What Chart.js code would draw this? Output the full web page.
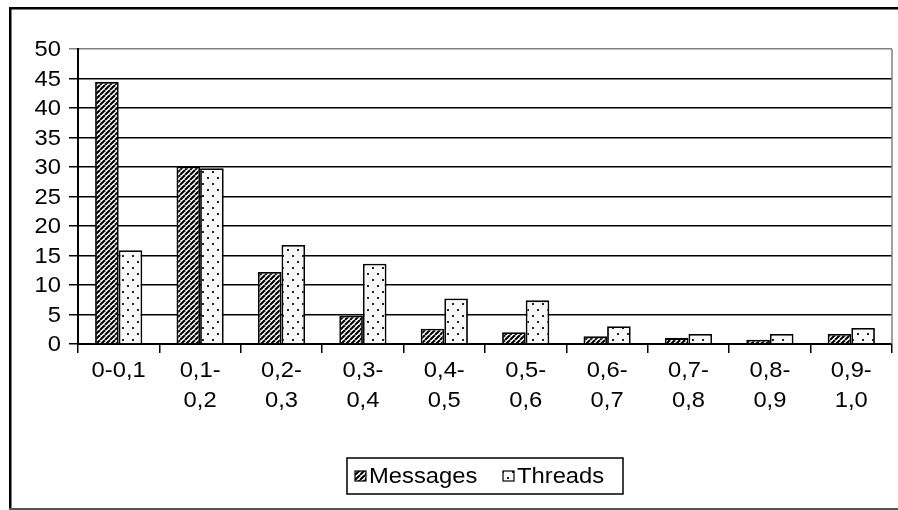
<!DOCTYPE html>
<html>
<head>
<meta charset="utf-8">
<script src="https://cdn.jsdelivr.net/npm/chart.js@4/dist/chart.umd.min.js"></script>
<style>
  html, body { margin: 0; padding: 0; background: #fff; }
  #wrap { width: 898px; height: 510px; }
</style>
</head>
<body>
<div id="wrap"><canvas id="c" width="898" height="510"></canvas></div>
<script>
// Share of messages and threads per similarity interval (%)
const categories = [["0-0,1"], ["0,1-", "0,2"], ["0,2-", "0,3"], ["0,3-", "0,4"], ["0,4-", "0,5"],
                    ["0,5-", "0,6"], ["0,6-", "0,7"], ["0,7-", "0,8"], ["0,8-", "0,9"], ["0,9-", "1,0"]];
const messages = [44.4, 30.1, 12.2, 4.8, 2.6, 2.0, 1.3, 1.0, 0.7, 1.7];
const threads  = [15.9, 29.8, 16.8, 13.6, 7.7, 7.4, 3.0, 1.7, 1.7, 2.7];
const seriesNames = ["Messages", "Threads"];
const yMax = 50;
const yStep = 5;

const FONT = '22px "Liberation Sans", Arial, sans-serif';
const STRETCH = 1.08;

// Diagonal hatch fill
function hatchPattern() {
  const s = 5;
  const t = document.createElement('canvas');
  t.width = s; t.height = s;
  const g = t.getContext('2d');
  g.fillStyle = '#fff';
  g.fillRect(0, 0, s, s);
  g.strokeStyle = '#000';
  g.lineWidth = 2.1;
  for (let k = -1; k <= 1; k++) {
    g.beginPath();
    g.moveTo(k * s, s);
    g.lineTo(k * s + s, 0);
    g.stroke();
  }
  return g.createPattern(t, 'repeat');
}

// Sparse dot fill
function dotPattern() {
  const w = 10, h = 12;
  const t = document.createElement('canvas');
  t.width = w; t.height = h;
  const g = t.getContext('2d');
  g.fillStyle = '#f8f8f8';
  g.fillRect(0, 0, w, h);
  g.fillStyle = '#222';
  g.fillRect(2, 3, 2, 2);
  g.fillRect(7, 9, 2, 2);
  return g.createPattern(t, 'repeat');
}

const hatch = hatchPattern();
const dots = dotPattern();

function wideText(ctx, text, x, y, align) {
  ctx.save();
  ctx.translate(x, y);
  ctx.scale(STRETCH, 1);
  ctx.textAlign = align;
  ctx.fillText(text, 0, 0);
  ctx.restore();
}

const decorations = {
  id: 'decorations',
  afterDraw(chart) {
    const ctx = chart.ctx;
    const area = chart.chartArea;
    const xs = chart.scales.x;
    const ys = chart.scales.y;
    ctx.save();

    // right edge of the plot area
    ctx.strokeStyle = '#808080';
    ctx.lineWidth = 1.5;
    ctx.beginPath();
    ctx.moveTo(area.right, area.top);
    ctx.lineTo(area.right, area.bottom);
    ctx.stroke();

    ctx.fillStyle = '#000';
    ctx.font = FONT;
    ctx.textBaseline = 'middle';

    // value axis labels
    ys.ticks.forEach(t => {
      wideText(ctx, String(t.value), area.left - 17, ys.getPixelForValue(t.value) + 1, 'right');
    });

    // category labels
    categories.forEach((lines, i) => {
      const x = xs.getPixelForValue(i);
      lines.forEach((ln, j) => {
        wideText(ctx, ln, x, area.bottom + 27 + j * 30, 'center');
      });
    });

    // legend
    const lx = 347, ly = 458, lw = 276, lh = 36;
    ctx.strokeStyle = '#000';
    ctx.lineWidth = 1.5;
    ctx.fillStyle = '#fff';
    ctx.fillRect(lx, ly, lw, lh);
    ctx.strokeRect(lx, ly, lw, lh);
    const fills = [hatch, dots];
    const sx = [lx + 8, lx + 156];
    chart.data.datasets.forEach((ds, i) => {
      const bx = sx[i], by = ly + lh / 2 - 5;
      ctx.fillStyle = fills[i];
      ctx.fillRect(bx, by, 11, 10);
      ctx.lineWidth = 1.2;
      ctx.strokeStyle = '#000';
      ctx.strokeRect(bx, by, 11, 10);
      ctx.fillStyle = '#000';
      wideText(ctx, ds.label, bx + 14, ly + lh / 2 + 1, 'left');
    });

    // outer frame
    ctx.fillStyle = '#000';
    ctx.fillRect(9, 7, 898 - 9, 2.5);
    ctx.fillRect(9, 7, 2.5, 503);
    ctx.fillStyle = '#555';
    ctx.fillRect(9, 508, 898 - 9, 2);

    ctx.restore();
  }
};

new Chart(document.getElementById('c'), {
  type: 'bar',
  data: {
    labels: categories,
    datasets: [
      { label: seriesNames[0], data: messages, backgroundColor: hatch, borderColor: '#000', borderWidth: 1.8 },
      { label: seriesNames[1], data: threads, backgroundColor: dots, borderColor: '#000', borderWidth: 1.8 }
    ]
  },
  options: {
    responsive: false,
    animation: false,
    devicePixelRatio: 1,
    layout: { padding: { left: 0, top: 49, right: 6, bottom: 0 } },
    datasets: { bar: { barPercentage: 1.0, categoryPercentage: 0.58 } },
    plugins: { legend: { display: false }, tooltip: { enabled: false } },
    scales: {
      x: {
        afterFit(s) { s.height = 166; },
        ticks: { display: false },
        grid: { display: true, drawOnChartArea: false, offset: true, tickLength: 9, color: '#000', lineWidth: 1.5 },
        border: { display: true, color: '#000', width: 2 }
      },
      y: {
        min: 0, max: yMax,
        afterFit(s) { s.width = 78; },
        ticks: { display: false, stepSize: yStep },
        grid: {
          tickLength: 9,
          lineWidth: 1.5,
          color: c => (c.tick && c.tick.value === yMax ? '#808080' : '#000')
        },
        border: { display: true, color: '#000', width: 2 }
      }
    }
  },
  plugins: [decorations]
});
</script>
</body>
</html>
